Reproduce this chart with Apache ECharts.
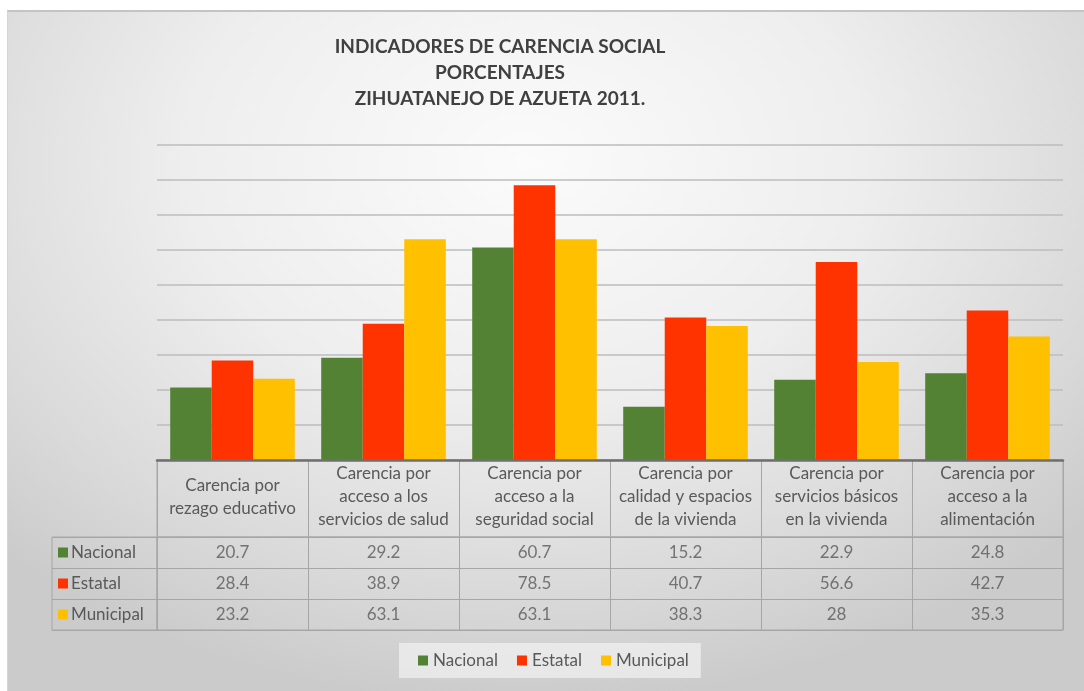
<!DOCTYPE html>
<html>
<head>
<meta charset="utf-8">
<script src="https://cdn.jsdelivr.net/npm/echarts@6/dist/echarts.min.js"></script>
<style>
  html, body { margin: 0; padding: 0; width: 1084px; height: 691px; background: #ffffff; overflow: hidden; }
  #frame { position: absolute; left: 7px; top: 10px; width: 1077px; height: 681px;
    background: radial-gradient(ellipse 70% 80% at 48% 22%, #fbfbfb 0%, #eeeeee 45%, #d9d9d9 80%, #cbcbcb 100%);
    border-top: 2px solid #c4c4c4; border-left: 1px solid #d4d4d4; box-sizing: border-box; }
  #chart { position: absolute; left: 0; top: 0; width: 1084px; height: 691px; }
</style>
</head>
<body>
<div id="frame"></div>
<div id="chart"></div>
<script>
const titleLines = ['INDICADORES DE CARENCIA SOCIAL', 'PORCENTAJES', 'ZIHUATANEJO DE AZUETA 2011.'];
const categories = [
  'Carencia por\nrezago educativo',
  'Carencia por\nacceso a los\nservicios de salud',
  'Carencia por\nacceso a la\nseguridad social',
  'Carencia por\ncalidad y espacios\nde la vivienda',
  'Carencia por\nservicios básicos\nen la vivienda',
  'Carencia por\nacceso a la\nalimentación'
];
const seriesNames = ['Nacional', 'Estatal', 'Municipal'];
const nacional = [20.7, 29.2, 60.7, 15.2, 22.9, 24.8];
const estatal = [28.4, 38.9, 78.5, 40.7, 56.6, 42.7];
const municipal = [23.2, 63.1, 63.1, 38.3, 28, 35.3];
const yMin = 0, yMax = 90, yStep = 10;

const colors = ['#548235', '#FF3300', '#FFC000'];
const values = [nacional, estatal, municipal];
const font = 'Lato, "Open Sans", sans-serif';
const txt = '#595959';
const tableLine = '#a6a6a6';
const fs = 17;

const cellData = [];
values.forEach((arr, si) => arr.forEach((v, ci) => cellData.push([ci, seriesNames[si], v])));

const rich = {};
seriesNames.forEach((n, i) => { rich['k' + i] = { width: 10, height: 10, backgroundColor: colors[i] }; });
rich.t = { fontSize: fs, color: txt, fontFamily: font, padding: [0, 0, 0, 3] };

const chart = echarts.init(document.getElementById('chart'), null, { renderer: 'canvas' });
chart.setOption({
  backgroundColor: 'transparent',
  animation: false,
  color: colors,
  title: {
    text: titleLines.join('\n'),
    left: 495, top: 29,
    textAlign: 'center',
    textStyle: { fontFamily: font, fontWeight: 'bold', fontSize: 19, color: '#404040', lineHeight: 26 }
  },
  legend: {
    data: seriesNames,
    left: 399, top: 643,
    padding: [9, 12, 9, 19],
    backgroundColor: 'rgba(242,242,242,0.7)',
    itemGap: 19, itemWidth: 10, itemHeight: 10, icon: 'rect',
    textStyle: { fontFamily: font, fontSize: fs, color: txt, padding: [0, 0, 0, 0] }
  },
  grid: [
    { left: 157, top: 145, width: 906, height: 315 },
    { left: 157, top: 460, width: 906, height: 77, show: true, borderColor: tableLine, borderWidth: 1, backgroundColor: 'transparent' },
    { left: 157, top: 537, width: 906, height: 93, show: true, borderColor: tableLine, borderWidth: 1, backgroundColor: 'transparent' },
    { left: 52, top: 537, width: 105, height: 93, show: true, borderColor: tableLine, borderWidth: 1, backgroundColor: 'transparent' }
  ],
  xAxis: [
    { gridIndex: 0, type: 'category', data: categories, z: 10,
      axisLine: { lineStyle: { color: '#6f6f6f', width: 2.5 } }, axisTick: { show: false },
      axisLabel: { interval: 0, margin: 37, verticalAlign: 'middle', align: 'center', lineHeight: 23,
        fontFamily: font, fontSize: fs, color: txt } },
    { gridIndex: 1, type: 'category', data: categories, axisLine: { show: false }, axisTick: { show: false },
      axisLabel: { show: false }, splitLine: { show: true, interval: 0, lineStyle: { color: tableLine, width: 1 } } },
    { gridIndex: 2, type: 'category', data: categories, axisLine: { show: false }, axisTick: { show: false },
      axisLabel: { show: false }, splitLine: { show: true, interval: 0, lineStyle: { color: tableLine, width: 1 } } },
    { gridIndex: 3, type: 'value', min: 0, max: 1, show: false }
  ],
  yAxis: [
    { gridIndex: 0, type: 'value', min: yMin, max: yMax, interval: yStep,
      axisLine: { show: false }, axisTick: { show: false }, axisLabel: { show: false },
      splitLine: { lineStyle: { color: '#bdbdbd', width: 1.6 } } },
    { gridIndex: 1, type: 'value', min: 0, max: 1, show: false },
    { gridIndex: 2, type: 'category', data: seriesNames, inverse: true,
      axisLine: { show: false }, axisTick: { show: false },
      splitLine: { show: true, interval: 0, lineStyle: { color: tableLine, width: 1 } },
      axisLabel: { interval: 0, align: 'left', margin: 99,
        formatter: (v) => '{k' + seriesNames.indexOf(v) + '|}{t|' + v + '}', rich: rich } },
    { gridIndex: 3, type: 'category', data: seriesNames, inverse: true,
      axisLine: { show: false }, axisTick: { show: false }, axisLabel: { show: false },
      splitLine: { show: true, interval: 0, lineStyle: { color: tableLine, width: 1 } } }
  ],
  series: [
    { name: seriesNames[0], type: 'bar', xAxisIndex: 0, yAxisIndex: 0, data: nacional, barWidth: '27.5%', barGap: '0%', itemStyle: { color: colors[0] } },
    { name: seriesNames[1], type: 'bar', xAxisIndex: 0, yAxisIndex: 0, data: estatal, barWidth: '27.5%', barGap: '0%', itemStyle: { color: colors[1] } },
    { name: seriesNames[2], type: 'bar', xAxisIndex: 0, yAxisIndex: 0, data: municipal, barWidth: '27.5%', barGap: '0%', itemStyle: { color: colors[2] } },
    { name: 'tabla', type: 'scatter', xAxisIndex: 2, yAxisIndex: 2, data: cellData, symbolSize: 1,
      itemStyle: { color: 'rgba(0,0,0,0)' }, silent: true,
      label: { show: true, position: 'inside', formatter: (p) => String(p.value[2]),
        fontFamily: font, fontSize: fs, color: txt } }
  ]
});
</script>
</body>
</html>
